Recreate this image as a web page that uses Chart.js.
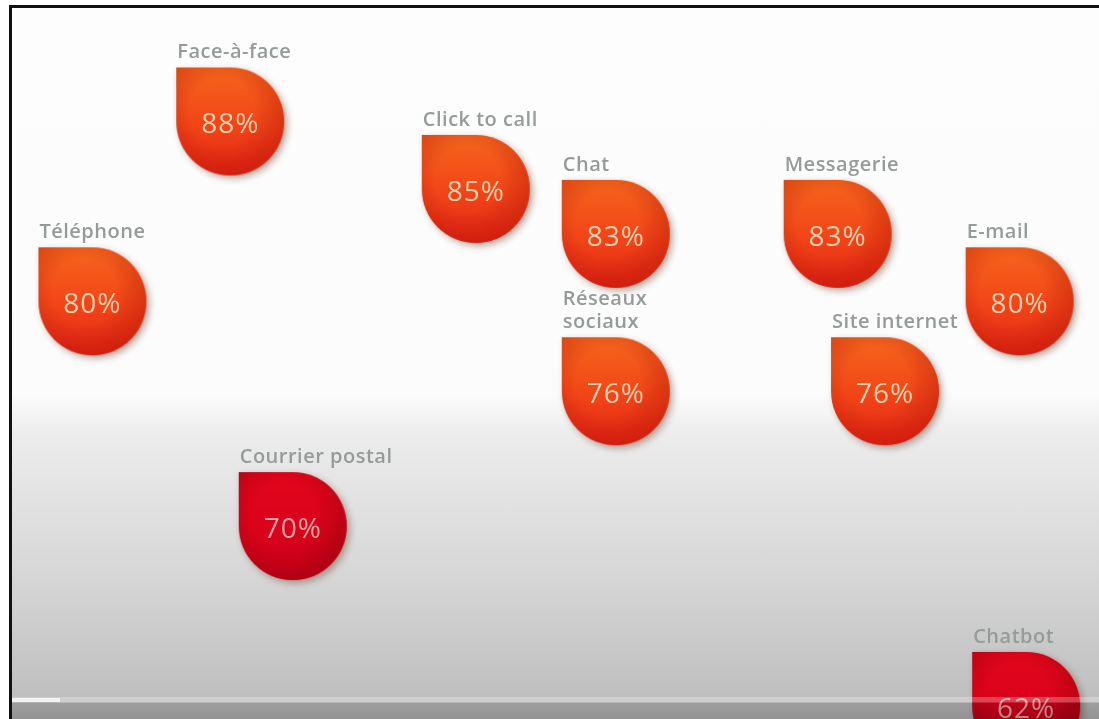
<!DOCTYPE html>
<html>
<head>
<meta charset="utf-8">
<script src="https://cdn.jsdelivr.net/npm/chart.js@4/dist/chart.umd.min.js"></script>
<style>
  body { margin: 0; background: #fff; }
  #frame { position: absolute; left: 0; top: 0; width: 1099px; height: 719px; overflow: hidden; background: #fff; }
  #topLine { position: absolute; left: 9px; top: 5px; width: 1090px; height: 3px; background: #111; }
  #leftLine { position: absolute; left: 9px; top: 5px; width: 3px; height: 714px; background: #111; }
  #wrap {
    position: absolute; left: 12px; top: 8px; width: 1087px; height: 711px;
    background: linear-gradient(to bottom, #fdfdfd 0%, #fcfcfc 54%, #ececec 60%, #d6d6d6 80%, #bdbdbd 98%);
  }
  #bar { position: absolute; left: 12px; top: 697px; width: 1087px; height: 22px;
    background: linear-gradient(to bottom, rgba(255,255,255,0.25) 0px, rgba(255,255,255,0.25) 5px, rgba(0,0,0,0.16) 6px, rgba(0,0,0,0.22) 100%); }
  #progress { position: absolute; left: 12px; top: 698px; width: 48px; height: 4px; background: #f2f2f2; }
</style>
</head>
<body>
<div id="frame">
  <div id="wrap"><canvas id="chart"></canvas></div>
  <div id="bar"></div>
  <div id="progress"></div>
  <div id="topLine"></div>
  <div id="leftLine"></div>
</div>
<script>
// canaux de contact et taux de satisfaction (%)
const canaux = ['Téléphone', 'Face-à-face', 'Courrier postal', 'Click to call', 'Chat',
  'Réseaux sociaux', 'Messagerie', 'Site internet', 'E-mail', 'Chatbot'];
const scores = [80, 88, 70, 85, 83, 76, 83, 76, 80, 62];
// position horizontale de chaque canal sur la diapo (0-100)
const colonnes = [7.0, 19.8, 25.6, 42.6, 55.6, 55.6, 76.2, 80.6, 93.1, 93.7];
// canaux "traditionnels" en rouge foncé
const rouges = ['Courrier postal', 'Chatbot'];

const R = 54;

function goutte(dark) {
  const pad = 16;
  const c = document.createElement('canvas');
  c.width = c.height = R * 2 + pad * 2;
  const g = c.getContext('2d');
  const cx = c.width / 2, cy = c.height / 2;
  const path = () => {
    g.beginPath();
    g.moveTo(cx - R, cy - R);
    g.lineTo(cx, cy - R);
    g.arc(cx, cy, R, -Math.PI / 2, Math.PI, false);
    g.closePath();
  };
  const grad = g.createLinearGradient(0, cy - R, 0, cy + R);
  if (dark) {
    grad.addColorStop(0, '#e3061c');
    grad.addColorStop(1, '#d0001a');
  } else {
    grad.addColorStop(0, '#f6661d');
    grad.addColorStop(0.55, '#f24418');
    grad.addColorStop(1, '#e62816');
  }
  g.save();
  g.shadowColor = 'rgba(90, 40, 10, 0.4)';
  g.shadowBlur = 7;
  g.shadowOffsetX = 3;
  g.shadowOffsetY = 3;
  path();
  g.fillStyle = grad;
  g.fill();
  g.restore();
  // bord plus sombre en bas a droite
  const rg = g.createRadialGradient(cx - 8, cy - 10, R * 0.6, cx - 8, cy - 10, R + 12);
  rg.addColorStop(0, 'rgba(140,0,0,0)');
  rg.addColorStop(1, dark ? 'rgba(120,0,10,0.4)' : 'rgba(170,10,0,0.35)');
  path();
  g.fillStyle = rg;
  g.fill();
  return c;
}

const imgOrange = goutte(false);
const imgRouge = goutte(true);

const textes = {
  id: 'textes',
  afterDatasetsDraw(chart) {
    const ctx = chart.ctx;
    const meta = chart.getDatasetMeta(0);
    meta.data.forEach((pt, i) => {
      const dark = rouges.includes(canaux[i]);
      ctx.save();
      ctx.font = '28px "Open Sans", sans-serif';
      ctx.letterSpacing = '1px';
      ctx.textAlign = 'center';
      ctx.textBaseline = 'middle';
      ctx.fillStyle = dark ? '#f3a3a6' : '#fcd2b0';
      ctx.fillText(scores[i] + '%', pt.x, pt.y + 4);

      ctx.font = '600 20px "Open Sans", sans-serif';
      ctx.letterSpacing = '0.5px';
      ctx.textAlign = 'left';
      ctx.textBaseline = 'alphabetic';
      ctx.fillStyle = '#959a9a';
      const lignes = canaux[i] === 'Réseaux sociaux' ? ['Réseaux', 'sociaux'] : [canaux[i]];
      lignes.reverse().forEach((l, k) => {
        ctx.fillText(l, pt.x - R + 1, pt.y - R - 9 - k * 23);
      });
      ctx.restore();
    });
  }
};

new Chart(document.getElementById('chart'), {
  type: 'scatter',
  data: {
    datasets: [{
      data: scores.map((v, i) => ({ x: colonnes[i], y: v })),
      pointStyle: canaux.map(c => rouges.includes(c) ? imgRouge : imgOrange),
      clip: false
    }]
  },
  options: {
    responsive: true,
    maintainAspectRatio: false,
    animation: false,
    layout: { padding: 0 },
    plugins: { legend: { display: false }, tooltip: { enabled: false } },
    scales: {
      x: { display: false, min: 0, max: 100 },
      y: { display: false, min: 61.64, max: 92.825 }
    }
  },
  plugins: [textes]
});
</script>
</body>
</html>
